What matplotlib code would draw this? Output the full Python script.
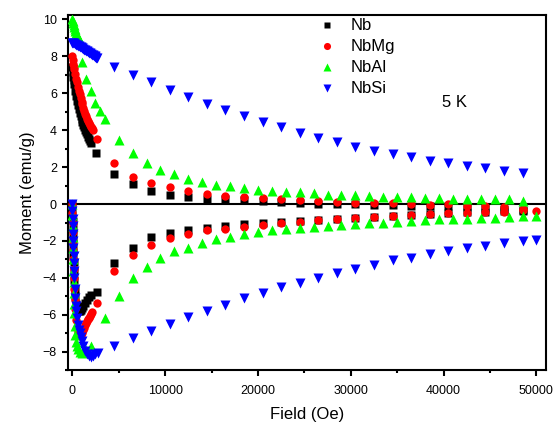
import matplotlib
matplotlib.use("Agg")
import matplotlib.pyplot as plt
from matplotlib.ticker import MultipleLocator

plt.rcParams['font.family'] = ['Liberation Sans', 'DejaVu Sans']

# Nb (black squares)
nb_up_h = [0, 50, 100, 150, 200, 300, 400, 500, 600, 700, 800, 900, 1000, 1100, 1200, 1300, 1400, 1500, 1600, 1700, 1800, 1900, 2000,
           2600, 4500, 6500, 8500, 10500, 12500, 14500, 16500, 18500, 20500, 22500, 24500, 26500, 28500, 30500, 32500, 34500,
           36500, 38500, 40500, 42500, 44500, 46500, 48500]
nb_up_m = [7.4, 7.15, 6.9, 6.7, 6.5, 6.15, 5.85, 5.6, 5.35, 5.15, 4.95, 4.75, 4.6, 4.45, 4.3, 4.15, 4.0, 3.9, 3.8, 3.65, 3.5, 3.4, 3.3,
           2.75, 1.62, 1.08, 0.7, 0.48, 0.38, 0.27, 0.25, 0.2, 0.18, 0.1, 0.05, 0.03, 0.0, -0.02, -0.03, -0.05,
           -0.08, -0.1, -0.12, -0.15, -0.2, -0.25, -0.3]
nb_dn_h = [0, 20, 40, 60, 80, 100, 120, 140, 160, 200, 250, 300, 400, 500, 600, 700, 800, 900, 1000, 1200, 1400, 1600, 1800, 2000,
           2700, 4500, 6500, 8500, 10500, 12500, 14500, 16500, 18500, 20500, 22500, 24500, 26500, 28500, 30500, 32500, 34500,
           36500, 38500, 40500, 42500, 44500, 46500, 48500]
nb_dn_m = [0, -0.45, -0.9, -1.35, -1.8, -2.25, -2.7, -3.15, -3.6, -4.1, -4.6, -5.0, -5.4, -5.6, -5.72, -5.78, -5.8, -5.75, -5.65, -5.5, -5.35, -5.2, -5.05, -4.95,
           -4.75, -3.18, -2.37, -1.8, -1.57, -1.4, -1.3, -1.19, -1.1, -1.05, -0.97, -0.92, -0.86, -0.8, -0.74, -0.68, -0.62,
           -0.57, -0.52, -0.48, -0.45, -0.42, -0.4, -0.36]

# NbMg (red circles)
mg_up_h = [0, 50, 100, 150, 200, 300, 400, 500, 600, 700, 800, 900, 1000, 1100, 1200, 1300, 1400, 1500, 1600, 1700, 1800, 1900, 2000, 2100, 2200,
           2700, 4500, 6500, 8500, 10500, 12500, 14500, 16500, 18500, 20500, 22500, 24500, 26500, 28500, 30500, 32500, 34500,
           36500, 38500, 40500, 42500, 44500, 46500, 48500]
mg_up_m = [8.0, 7.8, 7.6, 7.45, 7.3, 7.05, 6.8, 6.6, 6.35, 6.15, 5.95, 5.75, 5.55, 5.4, 5.2, 5.05, 4.9, 4.75, 4.6, 4.5, 4.4, 4.3, 4.2, 4.1, 4.0,
           3.55, 2.2, 1.48, 1.13, 0.9, 0.7, 0.53, 0.43, 0.36, 0.33, 0.27, 0.22, 0.18, 0.12, 0.08, 0.05, 0.05,
           0.0, -0.05, 0.0, -0.08, -0.12, -0.15, -0.28]
mg_dn_h = [0, 20, 40, 60, 80, 100, 120, 140, 160, 200, 250, 300, 400, 500, 600, 700, 800, 900, 1000, 1100, 1200, 1300, 1400, 1500,
           1600, 1700, 1800, 1900, 2000, 2100,
           2700, 4500, 6500, 8500, 10500, 12500, 14500, 16500, 18500, 20500, 22500, 24500, 26500, 28500, 30500, 32500, 34500,
           36500, 38500, 40500, 42500, 44500, 46500, 48500, 50000]
mg_dn_m = [0, -0.5, -1.0, -1.5, -2.0, -2.5, -3.0, -3.5, -4.0, -4.6, -5.2, -5.7, -6.3, -6.7, -6.95, -7.1, -7.15, -7.1, -7.0, -6.9, -6.8, -6.7, -6.55, -6.45,
           -6.35, -6.25, -6.15, -6.05, -5.95, -5.85,
           -5.35, -3.6, -2.75, -2.2, -1.85, -1.6, -1.42, -1.35, -1.25, -1.13, -1.02, -0.97, -0.88, -0.8, -0.74, -0.68, -0.62,
           -0.57, -0.54, -0.5, -0.48, -0.45, -0.43, -0.32, -0.36]

# NbAl (green triangles)
al_up_h = [0, 50, 100, 150, 200, 250, 300, 400, 500, 600, 700, 800,
           1000, 1500, 2000, 2500, 3000, 3500, 5000, 6500, 8000, 9500, 11000, 12500, 14000, 15500, 17000, 18500, 20000,
           21500, 23000, 24500, 26000, 27500, 29000, 30500, 32000, 33500, 35000, 36500, 38000, 39500, 41000, 42500,
           44000, 45500, 47000, 48500]
al_up_m = [10.0, 9.9, 9.8, 9.7, 9.6, 9.5, 9.4, 9.25, 9.15, 9.05, 8.95, 8.85,
           7.7, 6.75, 6.1, 5.5, 5.05, 4.6, 3.46, 2.75, 2.2, 1.84, 1.62, 1.35, 1.18, 1.03, 0.97, 0.87, 0.76,
           0.7, 0.65, 0.63, 0.6, 0.5, 0.5, 0.48, 0.43, 0.4, 0.38, 0.37, 0.33, 0.32, 0.28, 0.27,
           0.27, 0.26, 0.26, 0.18]
al_dn_h = [0, 20, 40, 60, 80, 100, 120, 140, 160, 180, 200, 250, 300, 400, 500, 600, 800, 1000, 1200, 1500, 2000,
           3500, 5000, 6500, 8000, 9500, 11000, 12500, 14000, 15500, 17000, 18500, 20000, 21500, 23000, 24500, 26000,
           27500, 29000, 30500, 32000, 33500, 35000, 36500, 38000, 39500, 41000, 42500, 44000, 45500, 47000, 48500, 50000]
al_dn_m = [0, -0.6, -1.2, -1.8, -2.4, -3.0, -3.6, -4.2, -4.8, -5.4, -5.9, -6.6, -7.1, -7.5, -7.7, -7.85, -8.0, -8.05, -8.0, -7.9, -7.7,
           -6.2, -4.97, -4.0, -3.4, -2.93, -2.57, -2.36, -2.12, -1.9, -1.77, -1.62, -1.5, -1.42, -1.36, -1.3, -1.23,
           -1.19, -1.14, -1.08, -1.05, -1.01, -0.96, -0.92, -0.86, -0.83, -0.81, -0.8, -0.77, -0.74, -0.69, -0.65, -0.65]

# NbSi (blue down triangles)
si_up_h = [0, 100, 200, 300, 400, 500, 600, 700, 800, 900, 1000, 1100, 1200, 1300, 1400, 1500, 1600, 1700, 1800, 1900,
           2000, 2100, 2200, 2300, 2400, 2500, 2600, 2700,
           4500, 6500, 8500, 10500, 12500, 14500, 16500, 18500, 20500, 22500, 24500, 26500, 28500, 30500, 32500, 34500,
           36500, 38500, 40500, 42500, 44500, 46500, 48500]
si_up_m = [8.75, 8.72, 8.7, 8.67, 8.64, 8.61, 8.58, 8.55, 8.52, 8.49, 8.46, 8.43, 8.4, 8.37, 8.34, 8.31, 8.27, 8.24, 8.2, 8.17,
           8.13, 8.1, 8.06, 8.03, 8.0, 7.97, 7.94, 7.9,
           7.4, 6.97, 6.6, 6.16, 5.78, 5.4, 5.08, 4.77, 4.45, 4.2, 3.85, 3.58, 3.37, 3.1, 2.88, 2.7,
           2.53, 2.34, 2.2, 2.07, 1.95, 1.8, 1.67]
si_dn_h = [0, 20, 40, 60, 80, 100, 120, 140, 160, 180, 200, 250, 300, 350, 400, 500, 600, 700, 800, 900, 1000, 1200, 1400,
           1600, 1800, 2000, 2200, 2500, 2800,
           4500, 6500, 8500, 10500, 12500, 14500, 16500, 18500, 20500, 22500, 24500, 26500, 28500, 30500, 32500, 34500,
           36500, 38500, 40500, 42500, 44500, 46500, 48500, 50000]
si_dn_m = [0, -0.4, -0.8, -1.2, -1.6, -2.0, -2.4, -2.8, -3.2, -3.6, -4.0, -4.6, -5.1, -5.5, -5.8, -6.2, -6.55, -6.8, -7.0, -7.2, -7.4, -7.7, -7.95,
           -8.15, -8.25, -8.3, -8.25, -8.15, -8.05,
           -7.68, -7.25, -6.9, -6.5, -6.1, -5.8, -5.46, -5.1, -4.8, -4.5, -4.26, -4.0, -3.75, -3.5, -3.3, -3.03,
           -2.9, -2.7, -2.55, -2.4, -2.25, -2.1, -2.0, -1.95]

fig = plt.figure(figsize=(5.58, 4.25), dpi=100)
ax = fig.add_axes([0.122, 0.129, 0.856, 0.836])

ax.axhline(0, color='black', lw=1.5, zorder=1)

ax.plot(nb_up_h, nb_up_m, 's', color='black', ms=5.5, mec='none', label='Nb', zorder=2)
ax.plot(nb_dn_h, nb_dn_m, 's', color='black', ms=5.5, mec='none', zorder=2)
ax.plot(mg_up_h, mg_up_m, 'o', color='red', ms=6, mec='none', label='NbMg', zorder=3)
ax.plot(mg_dn_h, mg_dn_m, 'o', color='red', ms=6, mec='none', zorder=3)
ax.plot(al_up_h, al_up_m, '^', color='#00ff00', ms=7.5, mec='none', label='NbAl', zorder=4)
ax.plot(al_dn_h, al_dn_m, '^', color='#00ff00', ms=7.5, mec='none', zorder=4)
ax.plot(si_up_h, si_up_m, 'v', color='blue', ms=7.5, mec='none', label='NbSi', zorder=5)
ax.plot(si_dn_h, si_dn_m, 'v', color='blue', ms=7.5, mec='none', zorder=5)

ax.set_xlim(-450, 51000)
ax.set_ylim(-9, 10.25)
ax.xaxis.set_major_locator(MultipleLocator(10000))
ax.xaxis.set_minor_locator(MultipleLocator(5000))
ax.yaxis.set_major_locator(MultipleLocator(2))
ax.yaxis.set_minor_locator(MultipleLocator(1))
ax.tick_params(which='both', direction='out', width=1.5, labelsize=9)
ax.tick_params(which='major', length=4.5)
ax.tick_params(which='minor', length=2.5)
ax.tick_params(axis='x', pad=6)
for s in ax.spines.values():
    s.set_linewidth(1.5)

ax.set_xlabel('Field (Oe)', fontsize=12)
ax.set_ylabel('Moment (emu/g)', fontsize=12)
ax.xaxis.set_label_coords(0.5, -0.104)
ax.yaxis.set_label_coords(-0.07, 0.5)

ax.text(0.81, 0.752, '5 K', transform=ax.transAxes, fontsize=12, ha='center', va='center')

ax.legend(loc='upper left', bbox_to_anchor=(0.5, 1.018), frameon=False, fontsize=12,
          labelspacing=0.36, handletextpad=0.8, handlelength=1.2, borderaxespad=0.2,
          markerscale=0.85)

fig.savefig('out.png', dpi=100)
